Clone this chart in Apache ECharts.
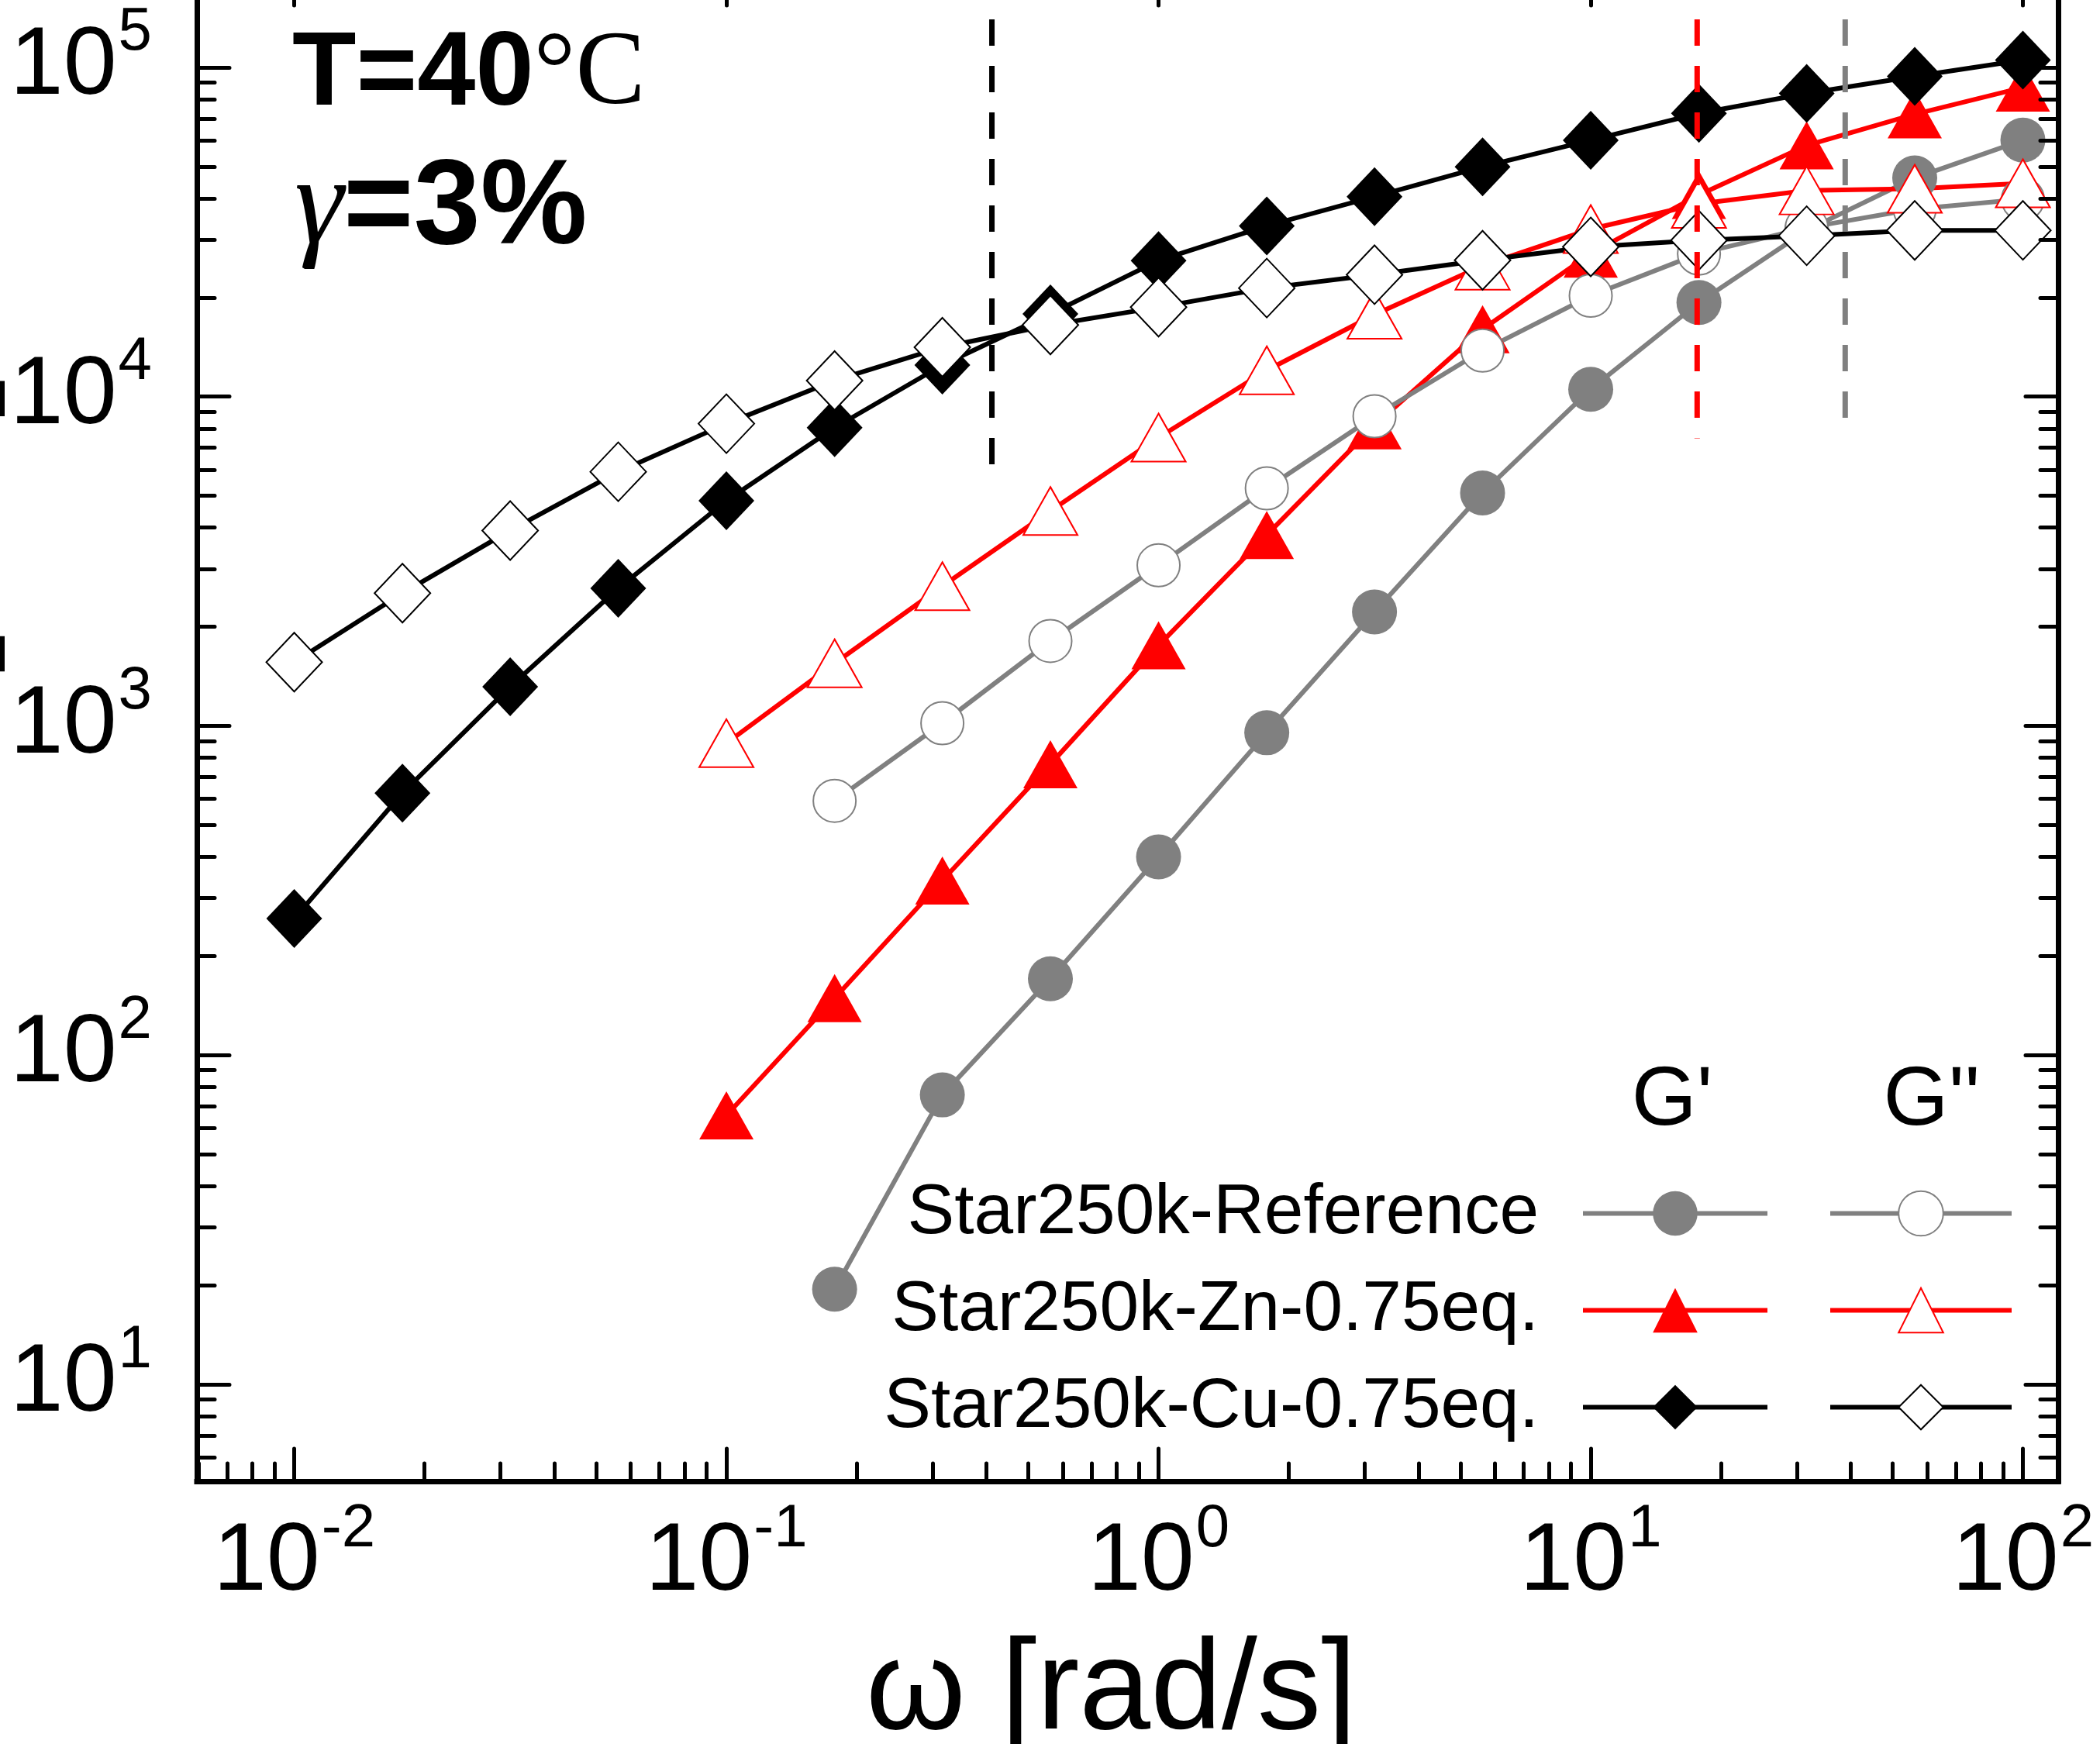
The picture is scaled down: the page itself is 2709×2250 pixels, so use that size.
<!DOCTYPE html>
<html><head><meta charset="utf-8">
<script src="https://cdn.jsdelivr.net/npm/echarts@6/dist/echarts.min.js"></script>
<style>html,body{margin:0;padding:0;background:#fff}#chart{width:2709px;height:2250px}</style>
</head><body><div id="chart"></div>
<script>
// ---- data ----
const omega = [0.01, 0.0178, 0.0316, 0.0562, 0.1, 0.178, 0.316, 0.562, 1, 1.78, 3.16, 5.62, 10, 17.8, 31.6, 56.2, 100];
const refG1 = [null, null, null, null, null, 19.45, 75.7, 170.5, 400, 953, 2219, 5100, 10530, 19320, 32000, 46160, 60120];
const refG2 = [null, null, null, null, null, 592, 1019, 1811, 3074, 5267, 8720, 13800, 20250, 27200, 32580, 37120, 39770];
const znG1 = [null, null, null, null, 65.6, 149, 339, 765, 1756, 3801, 8180, 16020, 27200, 41000, 57950, 72040, 86860];
const znG2 = [null, null, null, null, 886, 1549, 2656, 4494, 7512, 12020, 17740, 25000, 32280, 38500, 42300, 42800, 44460];
const cuG1 = [260, 625, 1315, 2616, 4830, 8050, 12470, 17840, 25900, 33000, 40500, 49900, 60100, 72500, 83400, 93900, 105300];
const cuG2 = [1561, 2529, 3921, 5913, 8276, 11190, 14130, 16510, 18690, 21370, 23460, 25960, 28490, 29850, 30810, 31980, 32000];
const crossOmega = [0.4115, 17.63, 38.8];
const crossLow = [5727, 7476, 7712];
const seriesNames = ['Star250k-Reference', 'Star250k-Zn-0.75eq.', 'Star250k-Cu-0.75eq.'];
const xMajor = [0.01, 0.1, 1, 10, 100];
const yMajor = [10, 100, 1000, 10000, 100000];
const xMin = 0.005954, xMax = 120.66;
const yMin = 5.078, yMax = 193700;

// ---- tick helpers ----
const xMinor = [], yMinor = [];
for (let e = -3; e <= 2; e++) for (let k = 2; k <= 9; k++) xMinor.push(+(k * Math.pow(10, e)).toPrecision(6));
for (let e = 0; e <= 5; e++) for (let k = 2; k <= 9; k++) yMinor.push(+(k * Math.pow(10, e)).toPrecision(6));

const F = '"Liberation Sans", Arial, sans-serif';
const FS = '"Liberation Serif", "Times New Roman", serif';
const GRAY = '#808080', RED = '#ff0000', BLACK = '#000000';

const expFmt = v => '{b|10}{s|' + Math.round(Math.log10(v)) + '}';
const labelRich = {
  b: { fontSize: 124, lineHeight: 122, fontFamily: F, color: '#000' },
  s: { fontSize: 78, lineHeight: 76, padding: [0, 0, 88, 2], fontFamily: F, color: '#000' }
};
const tickStyle = { color: '#000', width: 5, cap: 'round' };
const lineAx = { show: true, lineStyle: { color: '#000', width: 7, cap: 'square' } };
const noLine = { show: false };

function axis(kind, pos, major, withLabel, extra) {
  const isX = kind === 'x';
  const a = {
    type: 'log', logBase: 10,
    min: isX ? xMin : yMin, max: isX ? xMax : yMax,
    position: pos,
    axisLine: major ? lineAx : noLine,
    axisTick: { show: true, inside: true, length: major ? 42 : 23,
      customValues: major ? (isX ? xMajor : yMajor) : (isX ? xMinor : yMinor), lineStyle: tickStyle },
    minorTick: { show: false },
    splitLine: { show: false },
    axisLabel: withLabel ? { show: true, customValues: isX ? xMajor : yMajor, formatter: expFmt, rich: labelRich, margin: isX ? 45 : 58 } : { show: false },
    silent: true, z: 5
  };
  return Object.assign(a, extra || {});
}

function pts(arr) {
  return omega.map((w, i) => arr[i] == null ? null : [w, arr[i]]).filter(p => p);
}
function mk(name, arr, color, symbol, size, hollow) {
  return {
    type: 'line', name, data: pts(arr), symbol, symbolSize: size, showSymbol: true,
    lineStyle: { color, width: 6 },
    itemStyle: { color, borderColor: color, borderWidth: hollow ? 5 : 0 },
    emphasis: { disabled: true }, silent: true, animation: false, z: 2
  };
}
function dashed(i, color) {
  return {
    type: 'line', name: 'cross' + i, data: [[crossOmega[i], yMax], [crossOmega[i], crossLow[i]]],
    symbol: 'none', lineStyle: { color, width: 7, type: [34, 26] },
    emphasis: { disabled: true }, silent: true, animation: false, z: 3
  };
}

const n2 = seriesNames.map(s => s + " G''");
const legendCommon = {
  orient: 'vertical', top: 1520, itemHeight: 72, itemGap: 34, padding: 0, selectedMode: false,
  lineStyle: { width: 6 }
};

const option = {
  animation: false,
  backgroundColor: '#fff',
  grid: { left: 254, right: 54, top: -35, bottom: 339, containLabel: false, outerBoundsMode: 'none' },
  xAxis: [
    axis('x', 'bottom', true, true, {
      name: 'ω [rad/s]', nameLocation: 'middle', nameGap: 191, nameMoveOverlap: false,
      nameTextStyle: { fontSize: 165, lineHeight: 165, fontFamily: F, color: '#000', padding: [0, 42, 0, 0] }
    }),
    axis('x', 'bottom', false, false),
    axis('x', 'top', true, false),
    axis('x', 'top', false, false)
  ],
  yAxis: [
    axis('y', 'left', true, true, {
      name: "G', G'' [Pa]", nameLocation: 'middle', nameGap: 244, nameMoveOverlap: false,
      nameTextStyle: { fontSize: 229, lineHeight: 229, fontFamily: F, color: '#000', padding: [0, 160, 0, 0] }
    }),
    axis('y', 'left', false, false),
    axis('y', 'right', true, false),
    axis('y', 'right', false, false)
  ],
  legend: [
    Object.assign({}, legendCommon, {
      data: seriesNames, align: 'right', right: 426, itemWidth: 238,
      textStyle: { fontSize: 91, lineHeight: 60, fontFamily: F, color: '#000', padding: [0, 52, 0, 0] }
    }),
    Object.assign({}, legendCommon, {
      data: n2, align: 'left', left: 2358, itemWidth: 234,
      formatter: () => ' ',
      textStyle: { fontSize: 91, lineHeight: 60, fontFamily: F, color: '#000' }
    })
  ],
  series: [
    mk(seriesNames[0], refG1, GRAY, 'circle', 58, false),
    mk(seriesNames[1], znG1, RED, 'triangle', [70, 62], false),
    mk(seriesNames[2], cuG1, BLACK, 'diamond', [72, 76], false),
    mk(n2[0], refG2, GRAY, 'emptyCircle', 55, true),
    mk(n2[1], znG2, RED, 'emptyTriangle', [70, 62], true),
    mk(n2[2], cuG2, BLACK, 'emptyDiamond', [72, 76], true),
    dashed(0, BLACK), dashed(1, RED), dashed(2, GRAY)
  ],
  graphic: [
    { type: 'text', x: 377, y: 98, silent: true, style: {
        text: '{a|T=40}{c|°C}', align: 'left', verticalAlign: 'middle',
        rich: { a: { fontSize: 135, fontWeight: 'bold', fontFamily: F, fill: '#000' },
                c: { fontSize: 135, fontFamily: FS, fill: '#000' } } } },
    { type: 'text', x: 380, y: 271, silent: true, style: {
        text: '{g|γ}{a|=3%}', align: 'left', verticalAlign: 'middle',
        rich: { g: { fontSize: 160, fontFamily: FS, fontStyle: 'italic', fill: '#000' },
                a: { fontSize: 155, fontWeight: 'bold', fontFamily: F, fill: '#000' } } } },
    { type: 'text', x: 2157, y: 1421, silent: true, style: {
        text: "G'", align: 'center', verticalAlign: 'middle', fontSize: 108, fontFamily: F, fill: '#000' } },
    { type: 'text', x: 2492, y: 1421, silent: true, style: {
        text: "G''", align: 'center', verticalAlign: 'middle', fontSize: 108, fontFamily: F, fill: '#000' } }
  ]
};

const chart = echarts.init(document.getElementById('chart'), null, { renderer: 'canvas' });
chart.setOption(option);
</script>
</body></html>
